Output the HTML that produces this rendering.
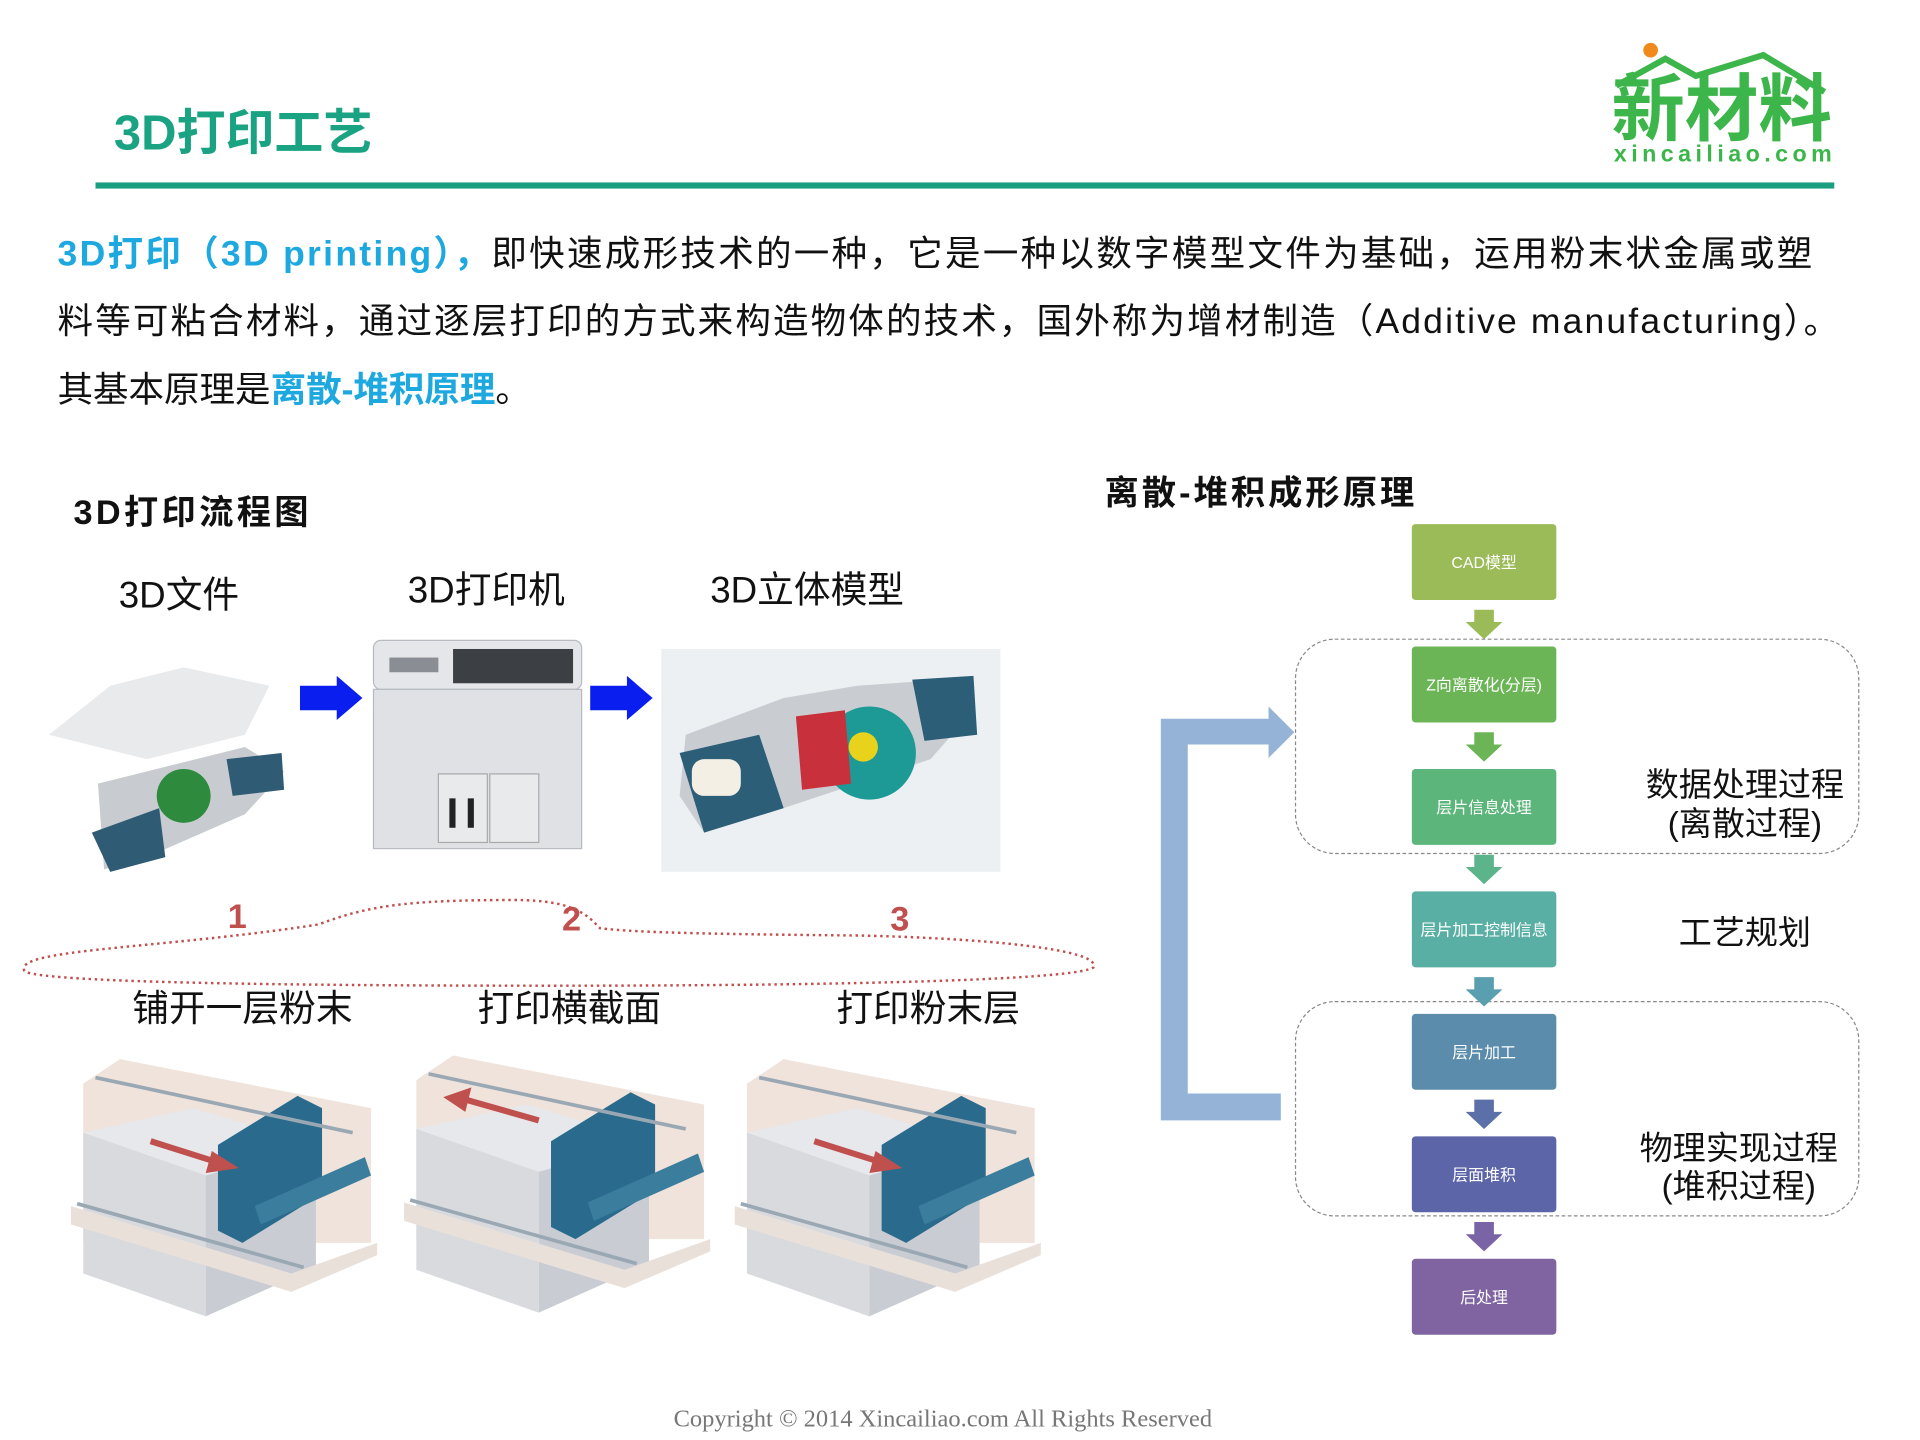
<!DOCTYPE html>
<html><head><meta charset="utf-8"><style>
html,body{margin:0;padding:0;background:#fff;}
svg{display:block;}
text{font-family:"Liberation Sans","Noto Sans CJK SC",sans-serif;}
</style></head><body>
<svg width="1920" height="1440" viewBox="0 0 1568 1176" xmlns="http://www.w3.org/2000/svg">
<defs>
<g id="mach">
  <path d="M10,20 L40,0 L245,40 L245,150 L10,150 Z" fill="#efe3dc"/>
  <path d="M10,60 L100,40 L200,70 L110,95 Z" fill="#e6e8ec"/>
  <path d="M10,60 L110,95 L110,210 L10,175 Z" fill="#d8dade"/>
  <path d="M110,95 L200,70 L200,170 L110,210 Z" fill="#c9ccd2"/>
  <path d="M0,120 L180,175 L250,150 L250,160 L180,190 L0,135 Z" fill="#e9e0da"/>
  <path d="M120,70 L185,30 L205,40 L205,110 L140,150 L120,140 Z" fill="#2a6a8c"/>
  <path d="M150,120 L240,80 L245,95 L155,135 Z" fill="#3a7d9c"/>
  <line x1="20" y1="15" x2="230" y2="60" stroke="#9aa8b4" stroke-width="3"/>
  <line x1="5" y1="118" x2="190" y2="170" stroke="#9aa8b4" stroke-width="3"/>
</g>
</defs>

<!-- header -->
<text x="93" y="122" font-size="40" font-weight="bold" fill="#1aa382">3D打印工艺</text>
<rect x="78" y="149" width="1420" height="5" fill="#1a9e80"/>
<circle cx="1348" cy="41" r="6" fill="#f08a1c"/>
<path d="M1320,70 L1360,48 L1385,62 L1440,45 L1490,75" fill="none" stroke="#3cb54a" stroke-width="5"/>
<text x="1316" y="110" font-size="60" font-weight="bold" fill="#3cb54a">新材料</text>
<text x="1318" y="132" font-size="19" font-weight="bold" fill="#3cb54a" textLength="178">xincailiao.com</text>

<!-- paragraph -->
<g font-size="29">
<text x="47" y="217" textLength="1433"><tspan fill="#1ea8e0" font-weight="bold">3D打印（3D printing），</tspan><tspan fill="#111">即快速成形技术的一种，它是一种以数字模型文件为基础，运用粉末状金属或塑</tspan></text>
<text x="47" y="272" fill="#111" textLength="1455">料等可粘合材料，通过逐层打印的方式来构造物体的技术，国外称为增材制造（Additive manufacturing）。</text>
<text x="47" y="328" fill="#111">其基本原理是<tspan fill="#1ea8e0" font-weight="bold">离散-堆积原理</tspan>。</text>
</g>

<!-- left flow -->
<text x="60" y="428" font-size="28" font-weight="bold" fill="#111" textLength="192">3D打印流程图</text>
<g font-size="30" fill="#111">
<text x="97" y="496">3D文件</text>
<text x="333" y="492">3D打印机</text>
<text x="580" y="492">3D立体模型</text>
</g>
<path d="M40,600 L90,560 L150,545 L220,560 L200,600 L120,620 Z" fill="#e8eaec"/>
<path d="M80,640 L140,625 L200,610 L232,630 L200,665 L120,700 L85,710 Z" fill="#c8ccd0"/>
<circle cx="150" cy="650" r="22" fill="#2e8b3e"/>
<path d="M75,680 L130,660 L135,700 L90,712 Z" fill="#2f5b74"/>
<path d="M185,620 L230,615 L232,645 L190,650 Z" fill="#2f5b74"/>
<path d="M245,560 L275,560 L275,552 L296,570 L275,588 L275,580 L245,580 Z" fill="#0a1ef0"/>
<path d="M482,560 L512,560 L512,552 L533,570 L512,588 L512,580 L482,580 Z" fill="#0a1ef0"/>
<rect x="305" y="523" width="170" height="40" rx="6" fill="#e4e6e9" stroke="#b8bcc2"/>
<rect x="370" y="530" width="98" height="28" fill="#3c3f44"/>
<rect x="318" y="537" width="40" height="12" fill="#8a8e94"/>
<rect x="305" y="563" width="170" height="130" fill="#dfe1e4" stroke="#b8bcc2"/>
<rect x="358" y="632" width="40" height="56" fill="#e8eaec" stroke="#aaa"/>
<rect x="400" y="632" width="40" height="56" fill="#e8eaec" stroke="#aaa"/>
<rect x="367" y="652" width="5" height="24" fill="#222"/><rect x="382" y="652" width="5" height="24" fill="#222"/>
<rect x="540" y="530" width="277" height="182" fill="#edf0f3"/>
<path d="M560,600 L640,570 L700,560 L770,555 L795,580 L760,620 L700,640 L640,660 L575,680 L555,650 Z" fill="#c9cdd2"/>
<path d="M555,615 L620,600 L640,660 L575,680 Z" fill="#2c5e78"/>
<rect x="565" y="620" width="40" height="30" rx="10" fill="#f3efe4"/>
<circle cx="710" cy="615" r="38" fill="#1d9a96"/>
<path d="M650,585 L690,580 L695,640 L655,645 Z" fill="#c8303c"/>
<path d="M745,555 L795,552 L798,600 L755,605 Z" fill="#2c5e78"/>
<circle cx="705" cy="610" r="12" fill="#e8d21c"/>

<path d="M20,793 C10,775 130,775 260,755 C300,740 330,735 420,735 C470,735 480,748 490,758 C520,762 600,763 700,764 C800,766 900,775 893,790 C880,800 700,805 450,805 C220,805 30,802 20,793 Z" fill="none" stroke="#c0504d" stroke-width="2" stroke-dasharray="2,3"/>
<g font-size="28" font-weight="bold" fill="#c0504d">
<text x="186" y="758">1</text><text x="459" y="760">2</text><text x="727" y="760">3</text>
</g>
<g font-size="30" fill="#111">
<text x="108" y="834">铺开一层粉末</text>
<text x="390" y="834">打印横截面</text>
<text x="683" y="834">打印粉末层</text>
</g>
<use href="#mach" transform="translate(58,865)"/>
<use href="#mach" transform="translate(330,862)"/>
<use href="#mach" transform="translate(600,865)"/>
<path d="M123,932 L180,950" stroke="#c0504d" stroke-width="5"/><path d="M173,940 L195,954 L168,958 Z" fill="#c0504d"/>
<path d="M440,915 L380,898" stroke="#c0504d" stroke-width="5"/><path d="M385,888 L362,896 L380,908 Z" fill="#c0504d"/>
<path d="M665,932 L722,950" stroke="#c0504d" stroke-width="5"/><path d="M715,940 L737,954 L710,958 Z" fill="#c0504d"/>

<!-- right diagram -->
<text x="902" y="412" font-size="28" font-weight="bold" fill="#111" textLength="253">离散-堆积成形原理</text>
<rect x="1058" y="522" width="460" height="175" rx="32" fill="none" stroke="#888" stroke-dasharray="3,2"/>
<rect x="1058" y="818" width="460" height="175" rx="32" fill="none" stroke="#888" stroke-dasharray="3,2"/>
<path d="M948,587 L1036,587 L1036,577 L1057,598 L1036,619 L1036,608 L970,608 L970,893 L1046,893 L1046,915 L948,915 Z" fill="#95b3d7"/>
<g font-size="13" fill="#fff" text-anchor="middle">
<rect x="1153" y="428" width="118" height="62" rx="3" fill="#9bbb59"/><text x="1212" y="464">CAD模型</text>
<rect x="1153" y="528" width="118" height="62" rx="3" fill="#6cb556"/><text x="1212" y="564">Z向离散化(分层)</text>
<rect x="1153" y="628" width="118" height="62" rx="3" fill="#5cb57a"/><text x="1212" y="664">层片信息处理</text>
<rect x="1153" y="728" width="118" height="62" rx="3" fill="#5aafa5"/><text x="1212" y="764">层片加工控制信息</text>
<rect x="1153" y="828" width="118" height="62" rx="3" fill="#5b8cab"/><text x="1212" y="864">层片加工</text>
<rect x="1153" y="928" width="118" height="62" rx="3" fill="#5b65a8"/><text x="1212" y="964">层面堆积</text>
<rect x="1153" y="1028" width="118" height="62" rx="3" fill="#8064a2"/><text x="1212" y="1064">后处理</text>
</g>
<g>
<path d="M1204,498 L1220,498 L1220,508 L1227,508 L1212,522 L1197,508 L1204,508 Z" fill="#9bbb59"/>
<path d="M1204,598 L1220,598 L1220,608 L1227,608 L1212,622 L1197,608 L1204,608 Z" fill="#6cb556"/>
<path d="M1204,698 L1220,698 L1220,708 L1227,708 L1212,722 L1197,708 L1204,708 Z" fill="#5cb58a"/>
<path d="M1204,798 L1220,798 L1220,808 L1227,808 L1212,822 L1197,808 L1204,808 Z" fill="#5a9fb0"/>
<path d="M1204,898 L1220,898 L1220,908 L1227,908 L1212,922 L1197,908 L1204,908 Z" fill="#5b6fa8"/>
<path d="M1204,998 L1220,998 L1220,1008 L1227,1008 L1212,1022 L1197,1008 L1204,1008 Z" fill="#7a64a6"/>
</g>
<g font-size="27" fill="#111" text-anchor="middle">
<text x="1425" y="650">数据处理过程</text><text x="1425" y="682">(离散过程)</text>
<text x="1425" y="771">工艺规划</text>
<text x="1420" y="947">物理实现过程</text><text x="1420" y="978">(堆积过程)</text>
</g>

<text x="770" y="1165" font-size="20" fill="#777" text-anchor="middle" style="font-family:'Liberation Serif',serif">Copyright © 2014   Xincailiao.com   All Rights Reserved</text>
</svg>
</body></html>
